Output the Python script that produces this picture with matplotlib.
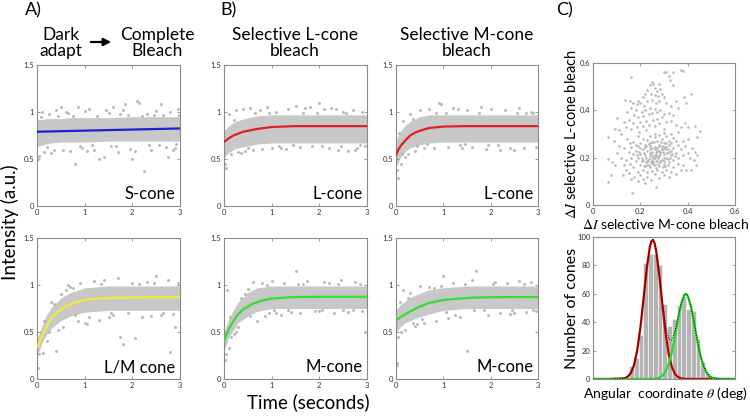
import matplotlib
matplotlib.use("Agg")
import matplotlib.pyplot as plt

plt.rcParams['font.family'] = ['Lato', 'DejaVu Sans']
plt.rcParams['mathtext.fontset'] = 'stix'

# ---------------- data: time courses ----------------
t_env = [0, 0.1, 0.2, 0.3, 0.5, 0.7, 1.0, 1.5, 2.0, 2.5, 3.0]

# A top: S-cone, complete bleach
s_lo = [0.63, 0.65, 0.66, 0.67, 0.68, 0.68, 0.68, 0.69, 0.69, 0.69, 0.69]
s_hi = [0.92, 0.92, 0.93, 0.93, 0.93, 0.94, 0.94, 0.94, 0.95, 0.95, 0.95]
s_fit_t = [0, 3]
s_fit_y = [0.79, 0.825]
s_pt_t = [0.02, 0.05, 0.1, 0.15, 0.25, 0.3, 0.4, 0.5, 0.55, 0.65, 0.7, 0.8, 0.85, 0.95, 1.0, 1.1,
          1.2, 1.3, 1.4, 1.5, 1.6, 1.7, 1.8, 1.85, 1.95, 2.0, 2.1, 2.15, 2.25, 2.3, 2.4, 2.5, 2.6,
          2.7, 2.75, 2.8, 2.9, 2.95, 0.35, 0.6, 1.05, 1.45, 1.75, 2.05, 2.45, 2.85,
          0.08, 0.45, 0.9, 1.25, 1.65, 2.2, 2.55, 2.98, 0.2, 0.75, 1.15, 1.55, 1.9, 2.35, 2.65, 2.92]
s_pt_y = [0.50, 0.53, 1.00, 0.57, 0.98, 0.56, 1.02, 1.05, 0.60, 0.99, 0.58, 0.45, 1.05, 0.62, 1.01, 1.03,
          0.60, 0.50, 0.52, 0.99, 1.05, 0.57, 1.02, 1.08, 0.61, 0.50, 1.12, 1.10, 0.37, 0.98, 0.60, 1.01, 1.08,
          0.63, 0.52, 1.00, 0.62, 1.03, 0.60, 1.00, 0.59, 1.02, 0.98, 0.58, 0.97, 0.60,
          0.95, 0.96, 0.64, 0.96, 0.64, 0.96, 0.65, 0.97, 0.63, 0.96, 0.65, 0.64, 0.97, 0.65, 0.97, 0.66]

# A bottom: L/M cone, complete bleach
lm_lo = [0.24, 0.38, 0.47, 0.54, 0.62, 0.67, 0.71, 0.73, 0.73, 0.73, 0.73]
lm_hi = [0.42, 0.56, 0.68, 0.76, 0.86, 0.92, 0.97, 0.99, 0.99, 0.99, 0.99]
lm_fit_t = [0, 0.1, 0.2, 0.3, 0.4, 0.5, 0.6, 0.8, 1.0, 1.3, 1.6, 2.0, 2.5, 3.0]
lm_fit_y = [0.33, 0.46, 0.56, 0.64, 0.70, 0.74, 0.77, 0.815, 0.84, 0.857, 0.864, 0.868, 0.87, 0.87]
lm_pt_t = [0.02, 0.05, 0.08, 0.12, 0.3, 0.4, 0.45, 0.6, 0.65, 0.7, 0.85, 0.9, 1.0, 1.05, 1.2, 1.3,
           1.4, 1.5, 1.7, 1.75, 1.8, 2.0, 2.05, 2.2, 2.3, 2.5, 2.6, 2.75, 2.8, 2.9, 2.95, 0.2, 0.55,
           1.1, 1.6, 2.4, 0.15, 0.35, 0.5, 0.8, 1.35, 1.9, 2.45, 2.85, 0.25, 0.75, 1.55, 2.15, 2.65]
lm_pt_y = [0.12, 0.27, 0.50, 0.28, 0.82, 0.30, 0.52, 0.95, 1.00, 0.98, 0.62, 1.02, 0.60, 0.58, 1.04, 0.63,
           1.05, 0.66, 1.07, 0.45, 0.37, 1.02, 0.44, 0.66, 1.03, 1.10, 0.68, 1.05, 0.29, 0.55, 1.02, 0.40, 0.55,
           0.66, 0.68, 0.67, 0.62, 0.80, 0.90, 0.68, 1.01, 0.70, 1.02, 0.69, 0.50, 0.97, 0.70, 1.01, 0.70]

# B top-left: L-cone, selective L-cone bleach
l1_lo = [0.52, 0.57, 0.60, 0.62, 0.64, 0.66, 0.67, 0.67, 0.67, 0.67, 0.67]
l1_hi = [0.80, 0.85, 0.89, 0.91, 0.94, 0.96, 0.97, 0.97, 0.97, 0.97, 0.97]
l1_fit_t = [0, 0.1, 0.2, 0.3, 0.4, 0.5, 0.7, 1.0, 1.5, 2.0, 3.0]
l1_fit_y = [0.68, 0.72, 0.75, 0.77, 0.79, 0.80, 0.82, 0.84, 0.85, 0.85, 0.85]
l1_pt_t = [0.02, 0.05, 0.1, 0.15, 0.25, 0.3, 0.4, 0.45, 0.55, 0.6, 0.75, 0.8, 0.9, 1.0, 1.1, 1.2,
           1.35, 1.5, 1.6, 1.7, 1.8, 1.85, 2.0, 2.1, 2.2, 2.35, 2.4, 2.5, 2.6, 2.7, 2.8, 2.9, 2.95,
           0.35, 1.3, 2.25, 2.75, 0.2, 0.65, 1.15, 1.65, 2.05, 2.55, 2.85, 0.5, 0.95, 1.45, 1.95, 2.45]
l1_pt_y = [0.45, 0.40, 0.98, 0.55, 1.02, 0.57, 1.03, 0.58, 1.04, 0.60, 1.02, 0.61, 1.05, 0.62, 1.00, 0.62,
           1.03, 1.06, 0.63, 1.04, 1.05, 0.64, 1.10, 1.03, 0.62, 1.03, 0.60, 1.00, 0.59, 1.02, 0.62, 1.00, 0.64,
           0.56, 0.61, 1.04, 0.60, 0.92, 0.99, 0.64, 0.99, 0.64, 0.99, 0.65, 0.62, 0.99, 0.65, 0.99, 0.64]

# B top-right: L-cone, selective M-cone bleach
l2_lo = [0.42, 0.52, 0.58, 0.62, 0.65, 0.67, 0.68, 0.68, 0.68, 0.68, 0.68]
l2_hi = [0.70, 0.80, 0.86, 0.90, 0.95, 0.97, 0.97, 0.97, 0.97, 0.97, 0.97]
l2_fit_t = [0, 0.05, 0.1, 0.2, 0.3, 0.4, 0.5, 0.7, 1.0, 1.5, 2.0, 3.0]
l2_fit_y = [0.54, 0.60, 0.64, 0.70, 0.75, 0.78, 0.80, 0.83, 0.845, 0.85, 0.85, 0.85]
l2_pt_t = [0.02, 0.04, 0.06, 0.1, 0.15, 0.2, 0.3, 0.4, 0.5, 0.6, 0.7, 0.8, 0.9, 0.95, 1.1, 1.2,
           1.4, 1.5, 1.6, 1.8, 1.9, 2.0, 2.2, 2.3, 2.5, 2.6, 2.7, 2.85, 2.95, 0.25, 1.3, 2.4,
           0.12, 0.35, 0.65, 1.05, 1.45, 1.75, 2.15, 2.55, 2.9, 0.45, 0.85, 1.35, 1.95, 2.75]
l2_pt_y = [0.38, 0.30, 0.78, 0.45, 0.90, 0.52, 0.98, 0.58, 1.02, 0.62, 1.03, 0.62, 1.10, 1.08, 0.63, 1.04,
           0.62, 1.02, 0.63, 1.05, 0.61, 1.03, 0.60, 1.02, 0.60, 1.04, 0.62, 1.00, 0.63, 0.55, 1.03, 0.62,
           0.55, 0.93, 0.66, 0.99, 0.66, 0.99, 0.65, 0.99, 0.99, 0.64, 0.99, 0.65, 0.65, 0.99]

# B bottom-left: M-cone, selective L-cone bleach
m1_lo = [0.30, 0.44, 0.52, 0.60, 0.67, 0.72, 0.75, 0.75, 0.75, 0.75, 0.75]
m1_hi = [0.50, 0.64, 0.74, 0.82, 0.92, 0.97, 0.99, 0.99, 0.99, 0.99, 0.99]
m1_fit_t = [0, 0.1, 0.2, 0.3, 0.4, 0.5, 0.6, 0.8, 1.0, 1.3, 1.6, 2.0, 3.0]
m1_fit_y = [0.40, 0.53, 0.62, 0.69, 0.74, 0.77, 0.80, 0.835, 0.855, 0.868, 0.873, 0.875, 0.875]
m1_pt_t = [0.02, 0.04, 0.06, 0.1, 0.15, 0.3, 0.45, 0.6, 0.7, 0.8, 0.85, 0.95, 1.0, 1.1, 1.25, 1.4,
           1.5, 1.6, 1.75, 1.9, 2.0, 2.1, 2.3, 2.45, 2.6, 2.75, 2.9, 2.95, 0.25, 1.2, 2.2,
           0.12, 0.35, 0.55, 0.9, 1.35, 1.65, 2.05, 2.4, 2.7, 2.85, 0.2, 0.5, 1.05, 1.55, 2.5]
m1_pt_y = [0.20, 0.27, 0.95, 0.33, 0.45, 0.55, 0.90, 1.03, 0.62, 1.02, 0.67, 0.70, 1.04, 0.70, 1.02, 0.71,
           1.15, 0.70, 1.04, 0.72, 0.72, 1.03, 0.70, 1.05, 0.71, 1.03, 0.72, 0.50, 0.50, 0.68, 1.02,
           0.66, 0.86, 0.67, 1.00, 0.73, 1.01, 0.73, 1.01, 0.73, 1.01, 0.48, 0.96, 0.73, 1.01, 0.73]

# B bottom-right: M-cone, selective M-cone bleach
m2_lo = [0.50, 0.56, 0.60, 0.62, 0.66, 0.69, 0.73, 0.75, 0.75, 0.75, 0.75]
m2_hi = [0.74, 0.79, 0.83, 0.87, 0.91, 0.95, 0.97, 0.99, 0.99, 0.99, 0.99]
m2_fit_t = [0, 0.1, 0.2, 0.3, 0.5, 0.7, 1.0, 1.3, 1.6, 2.0, 2.5, 3.0]
m2_fit_y = [0.62, 0.66, 0.69, 0.72, 0.77, 0.81, 0.84, 0.855, 0.865, 0.87, 0.872, 0.872]
m2_pt_t = [0.02, 0.03, 0.05, 0.1, 0.15, 0.2, 0.3, 0.4, 0.5, 0.6, 0.7, 0.85, 1.0, 1.1, 1.2, 1.35,
           1.5, 1.6, 1.7, 1.8, 1.95, 2.1, 2.2, 2.35, 2.5, 2.6, 2.75, 2.85, 2.95, 0.45, 1.25, 2.4,
           0.08, 0.25, 0.55, 0.8, 1.05, 1.45, 1.85, 2.05, 2.45, 2.7, 2.9, 0.35, 0.95, 1.65]
m2_pt_y = [0.15, 0.17, 0.45, 0.50, 0.95, 0.52, 0.92, 0.56, 0.99, 0.60, 0.98, 0.62, 1.10, 0.65, 1.02, 0.66,
           0.30, 1.05, 1.15, 0.17, 0.68, 1.03, 0.70, 1.02, 0.70, 1.04, 0.71, 1.03, 0.72, 0.58, 0.68, 0.69,
           0.82, 0.86, 0.64, 0.97, 0.71, 1.01, 0.73, 1.01, 0.73, 1.01, 0.73, 0.60, 0.99, 0.73]

# ---------------- data: C scatter (dI M-bleach vs dI L-bleach) ----------------
c_x = [0.16, 0.30, 0.31, 0.34, 0.37, 0.38, 0.32, 0.325, 0.34, 0.25, 0.255, 0.24, 0.28, 0.285, 0.26, 0.27,
       0.22, 0.23, 0.245, 0.26, 0.275, 0.29, 0.30, 0.21, 0.19, 0.135, 0.155, 0.17, 0.185, 0.20, 0.215, 0.23,
       0.25, 0.265, 0.28, 0.31, 0.385, 0.413, 0.395, 0.35, 0.33, 0.36, 0.24, 0.26, 0.22, 0.205, 0.18, 0.16,
       0.145, 0.175, 0.19, 0.21, 0.235, 0.25, 0.27, 0.285, 0.30, 0.32, 0.34, 0.29, 0.27, 0.255, 0.225, 0.20,
       0.17, 0.15, 0.13, 0.10, 0.093, 0.14, 0.16, 0.185, 0.21, 0.235, 0.26, 0.28, 0.31, 0.33, 0.35, 0.37,
       0.39, 0.40, 0.43, 0.451, 0.44, 0.12, 0.11, 0.065, 0.195, 0.225, 0.30, 0.36,
       0.065, 0.08, 0.095, 0.065, 0.075, 0.163, 0.219, 0.266, 0.395, 0.415, 0.437, 0.41, 0.12, 0.13, 0.14,
       0.125, 0.15, 0.16, 0.175, 0.19, 0.20, 0.21, 0.23, 0.245, 0.26, 0.28, 0.30, 0.32, 0.33, 0.35, 0.37,
       0.38, 0.36, 0.34, 0.31, 0.29, 0.27, 0.25, 0.23, 0.21, 0.19, 0.17, 0.155, 0.14, 0.16, 0.18, 0.20,
       0.22, 0.24, 0.26, 0.28, 0.30, 0.32, 0.34, 0.36, 0.38, 0.40, 0.42, 0.39, 0.37, 0.35, 0.33, 0.31,
       0.29, 0.27, 0.25, 0.23, 0.21, 0.19, 0.17, 0.15, 0.13, 0.16, 0.18, 0.20, 0.22, 0.24, 0.26, 0.28,
       0.30, 0.32, 0.34, 0.36, 0.38, 0.40, 0.35, 0.33, 0.31, 0.29, 0.27, 0.25, 0.23, 0.21, 0.19, 0.17,
       0.20, 0.22, 0.24, 0.26, 0.28, 0.30, 0.32, 0.34, 0.31, 0.29, 0.27, 0.25, 0.23, 0.21, 0.19, 0.24,
       0.26, 0.28, 0.30, 0.33, 0.265, 0.245, 0.275, 0.255, 0.235, 0.285, 0.295, 0.305, 0.315, 0.325, 0.335,
       0.345, 0.225, 0.215, 0.205, 0.195, 0.185, 0.265, 0.255, 0.245, 0.275, 0.285, 0.295, 0.305, 0.315,
       0.235, 0.225, 0.215, 0.205, 0.27, 0.28, 0.26, 0.25, 0.24, 0.29, 0.30, 0.31, 0.32, 0.22, 0.20, 0.18,
       0.155, 0.145, 0.10, 0.11, 0.425, 0.43, 0.44, 0.09,
       0.252, 0.262, 0.272, 0.282, 0.292, 0.242, 0.232, 0.222, 0.302, 0.312, 0.268, 0.278, 0.258, 0.248,
       0.288, 0.298, 0.238, 0.228, 0.318, 0.328, 0.262, 0.272, 0.252, 0.282, 0.242]
c_y = [0.54, 0.56, 0.56, 0.56, 0.57, 0.565, 0.545, 0.527, 0.505, 0.52, 0.51, 0.505, 0.51, 0.49, 0.495, 0.48,
       0.47, 0.485, 0.47, 0.465, 0.46, 0.47, 0.455, 0.455, 0.44, 0.443, 0.44, 0.43, 0.425, 0.43, 0.42, 0.44,
       0.445, 0.43, 0.44, 0.43, 0.457, 0.471, 0.429, 0.44, 0.42, 0.41, 0.41, 0.405, 0.40, 0.395, 0.40, 0.41,
       0.395, 0.38, 0.37, 0.375, 0.385, 0.39, 0.395, 0.40, 0.385, 0.39, 0.38, 0.37, 0.365, 0.36, 0.355, 0.35,
       0.345, 0.36, 0.35, 0.366, 0.323, 0.33, 0.32, 0.33, 0.335, 0.34, 0.335, 0.345, 0.35, 0.355, 0.34, 0.33,
       0.345, 0.33, 0.335, 0.314, 0.288, 0.30, 0.315, 0.288, 0.31, 0.315, 0.32, 0.31,
       0.193, 0.18, 0.17, 0.098, 0.125, 0.049, 0.091, 0.077, 0.148, 0.15, 0.169, 0.20, 0.20, 0.17, 0.15,
       0.125, 0.135, 0.11, 0.12, 0.10, 0.125, 0.11, 0.12, 0.105, 0.13, 0.115, 0.125, 0.12, 0.14, 0.13, 0.15,
       0.17, 0.175, 0.16, 0.15, 0.14, 0.15, 0.145, 0.14, 0.15, 0.14, 0.16, 0.175, 0.19, 0.20, 0.185, 0.17,
       0.165, 0.16, 0.17, 0.165, 0.175, 0.18, 0.19, 0.20, 0.21, 0.22, 0.24, 0.25, 0.235, 0.22, 0.21, 0.20,
       0.19, 0.185, 0.19, 0.185, 0.19, 0.20, 0.215, 0.225, 0.24, 0.245, 0.23, 0.215, 0.21, 0.205, 0.21, 0.205,
       0.215, 0.225, 0.24, 0.255, 0.27, 0.28, 0.27, 0.26, 0.245, 0.235, 0.23, 0.225, 0.23, 0.235, 0.25, 0.265,
       0.26, 0.255, 0.25, 0.245, 0.255, 0.26, 0.27, 0.285, 0.29, 0.28, 0.27, 0.265, 0.275, 0.28, 0.29, 0.29,
       0.30, 0.295, 0.305, 0.30, 0.22, 0.215, 0.20, 0.20, 0.195, 0.215, 0.225, 0.235, 0.195, 0.20, 0.215,
       0.205, 0.20, 0.22, 0.20, 0.225, 0.21, 0.185, 0.175, 0.18, 0.175, 0.18, 0.16, 0.165, 0.17,
       0.17, 0.18, 0.165, 0.185, 0.24, 0.23, 0.235, 0.24, 0.235, 0.25, 0.245, 0.26, 0.255, 0.245, 0.24, 0.255,
       0.26, 0.28, 0.22, 0.25, 0.19, 0.225, 0.21, 0.27,
       0.208, 0.198, 0.228, 0.188, 0.238, 0.218, 0.188, 0.248, 0.198, 0.218, 0.158, 0.248, 0.268, 0.178,
       0.268, 0.188, 0.258, 0.168, 0.238, 0.228, 0.288, 0.208, 0.182, 0.222, 0.262]

# ---------------- data: C histogram of angular coordinate ----------------
hist_theta = [24.5, 27.5, 30.5, 33.5, 36.5, 39.5, 42.5, 45.5, 48.5, 51.5, 54.5, 57.5, 60.5, 63.5,
              66.5, 69.5, 72.5, 75.5]
hist_count = [9, 15, 31, 82, 88, 88, 80, 53, 37, 42, 52, 58, 49, 48, 28, 12, 4, 1.5]
fit_theta = [0, 10, 20, 22, 24, 26, 28, 30, 32, 34, 36, 37, 38, 39, 40, 42, 44, 46, 48, 50, 52, 54,
             56, 58, 59, 60, 62, 64, 66, 68, 70, 72, 74, 76, 80, 90]
fit_red = [0, 0, 0.5, 1.6, 4.2, 9.8, 20.0, 35.8, 56.2, 77.2, 92.9, 97.0, 98.0, 95.7, 90.5, 73.2, 51.9,
           32.3, 17.5, 8.4, 3.5, 1.3, 0.4, 0.1, 0.1, 0, 0, 0, 0, 0, 0, 0, 0, 0, 0, 0]
fit_green = [0, 0, 0, 0, 0, 0, 0, 0, 0, 0, 0, 0, 0.05, 0.1, 0.3, 0.9, 2.3, 5.3, 10.6, 19.0, 30.2, 42.6,
             53.4, 59.4, 60.0, 58.7, 51.5, 40.1, 27.8, 17.0, 9.3, 4.5, 1.9, 0.7, 0.1, 0]
fit_sum = [0, 0, 0.5, 1.6, 4.2, 9.8, 20.0, 35.8, 56.2, 77.2, 92.9, 97.0, 98.05, 95.8, 90.8, 74.1, 54.2,
           37.6, 28.1, 27.4, 33.7, 43.9, 53.8, 59.5, 60.1, 58.7, 51.5, 40.1, 27.8, 17.0, 9.3, 4.5, 1.9,
           0.7, 0.1, 0]

time_ticks = [0, 1, 2, 3]
time_ticklabels = ['0', '1', '2', '3']
int_ticks = [0, 0.5, 1, 1.5]
int_ticklabels = ['0', '0.5', '1', '1.5']

# ---------------- styling ----------------
W, H = 750, 420
BAND = '#c8c8c8'
DOT = '#b8b8b8'
SPINE = '#8a8a8a'

fig = plt.figure(figsize=(W / 100, H / 100), dpi=100)


def px_axes(x0, y0, x1, y1):
    return fig.add_axes([x0 / W, 1 - y1 / H, (x1 - x0) / W, (y1 - y0) / H])


def style(ax):
    for s in ax.spines.values():
        s.set_color(SPINE)
        s.set_linewidth(0.8)
    ax.tick_params(direction='in', length=2.5, width=0.6, color=SPINE, labelsize=5.5,
                   labelcolor='#333333', top=True, right=True, pad=2)


def time_panel(box, lo, hi, pt_t, pt_y, fit_t, fit_y, color, label):
    ax = px_axes(*box)
    ax.fill_between(t_env, lo, hi, color=BAND, lw=0, zorder=1)
    ax.scatter(pt_t, pt_y, s=4.5, color=DOT, lw=0, zorder=2)
    ax.plot(fit_t, fit_y, color=color, lw=1.6, zorder=3, solid_capstyle='butt')
    ax.set_xlim(0, 3)
    ax.set_ylim(0, 1.5)
    ax.set_xticks(time_ticks)
    ax.set_xticklabels(time_ticklabels)
    ax.set_yticks(int_ticks)
    ax.set_yticklabels(int_ticklabels)
    style(ax)
    ax.text(0.97, 0.025, label, transform=ax.transAxes, ha='right', va='bottom', fontsize=12)
    return ax


time_panel((37, 65, 180, 206), s_lo, s_hi, s_pt_t, s_pt_y, s_fit_t, s_fit_y, '#1f1fd0', 'S-cone')
time_panel((37, 238, 180, 379), lm_lo, lm_hi, lm_pt_t, lm_pt_y, lm_fit_t, lm_fit_y, '#f2ea3a', 'L/M cone')
time_panel((224, 65, 367, 206), l1_lo, l1_hi, l1_pt_t, l1_pt_y, l1_fit_t, l1_fit_y, '#e02020', 'L-cone')
time_panel((396, 65, 538, 206), l2_lo, l2_hi, l2_pt_t, l2_pt_y, l2_fit_t, l2_fit_y, '#e02020', 'L-cone')
time_panel((224, 238, 367, 379), m1_lo, m1_hi, m1_pt_t, m1_pt_y, m1_fit_t, m1_fit_y, '#33dd33', 'M-cone')
time_panel((396, 238, 538, 379), m2_lo, m2_hi, m2_pt_t, m2_pt_y, m2_fit_t, m2_fit_y, '#33dd33', 'M-cone')

# C scatter
axs = px_axes(593, 63, 735, 205)
axs.scatter(c_x, c_y, s=3.5, color=DOT, lw=0)
axs.set_xlim(0, 0.6)
axs.set_ylim(0, 0.6)
axs.set_xticks([0, 0.2, 0.4, 0.6])
axs.set_xticklabels(['0', '0.2', '0.4', '0.6'])
axs.set_yticks([0, 0.2, 0.4, 0.6])
axs.set_yticklabels(['0', '0.2', '0.4', '0.6'])
style(axs)

# C histogram
axh = px_axes(593, 237, 735, 379)
axh.bar(hist_theta, hist_count, width=3, color='#b4b4b4', edgecolor='white', linewidth=0.4, zorder=1)
axh.plot(fit_theta, fit_red, color='#c80000', lw=1.6, zorder=2)
axh.plot(fit_theta, fit_green, color='#22dd22', lw=1.6, zorder=3)
axh.plot(fit_theta, fit_sum, color='black', lw=0.7, ls=(0, (1, 1.5)), zorder=4)
axh.set_xlim(0, 90)
axh.set_ylim(0, 100)
axh.set_xticks([])
axh.set_yticks([0, 20, 40, 60, 80, 100])
style(axh)

# ---------------- texts ----------------
def ftext(x, y, s, **kw):
    fig.text(x / W, 1 - y / H, s, **kw)


ftext(25, 10, 'A)', fontsize=13, ha='left', va='center')
ftext(220, 10, 'B)', fontsize=13, ha='left', va='center')
ftext(556, 10, 'C)', fontsize=13, ha='left', va='center')

ftext(61, 43, 'Dark\nadapt', fontsize=12.5, ha='center', va='center', linespacing=0.95)
ftext(157, 43, 'Complete\nBleach', fontsize=12.5, ha='center', va='center', linespacing=0.95)
ftext(295, 43, 'Selective L-cone\nbleach', fontsize=12.5, ha='center', va='center', linespacing=0.95)
ftext(467, 43, 'Selective M-cone\nbleach', fontsize=12.5, ha='center', va='center', linespacing=0.95)
fig.add_artist(matplotlib.patches.FancyArrowPatch((88 / W, 1 - 42 / H), (114 / W, 1 - 42 / H),
                                                  transform=fig.transFigure, arrowstyle='-|>',
                                                  mutation_scale=11, lw=1.6, color='black'))

ftext(10, 222, 'Intensity (a.u.)', fontsize=13.5, rotation=90, ha='center', va='center')
ftext(308, 402, 'Time (seconds)', fontsize=13.5, ha='center', va='center')

ftext(571, 134, r'$\mathit{\Delta I}$ selective L-cone bleach', fontsize=10.5, rotation=90,
      ha='center', va='center')
ftext(666, 224, r'$\mathit{\Delta I}$ selective M-cone bleach', fontsize=10, ha='center', va='center')
ftext(572, 308, 'Number of cones', fontsize=11.5, rotation=90, ha='center', va='center')
ftext(665, 394, r'Angular  coordinate $\mathit{\theta}$ (deg)', fontsize=10, ha='center', va='center')

fig.savefig('out.png', dpi=100)
